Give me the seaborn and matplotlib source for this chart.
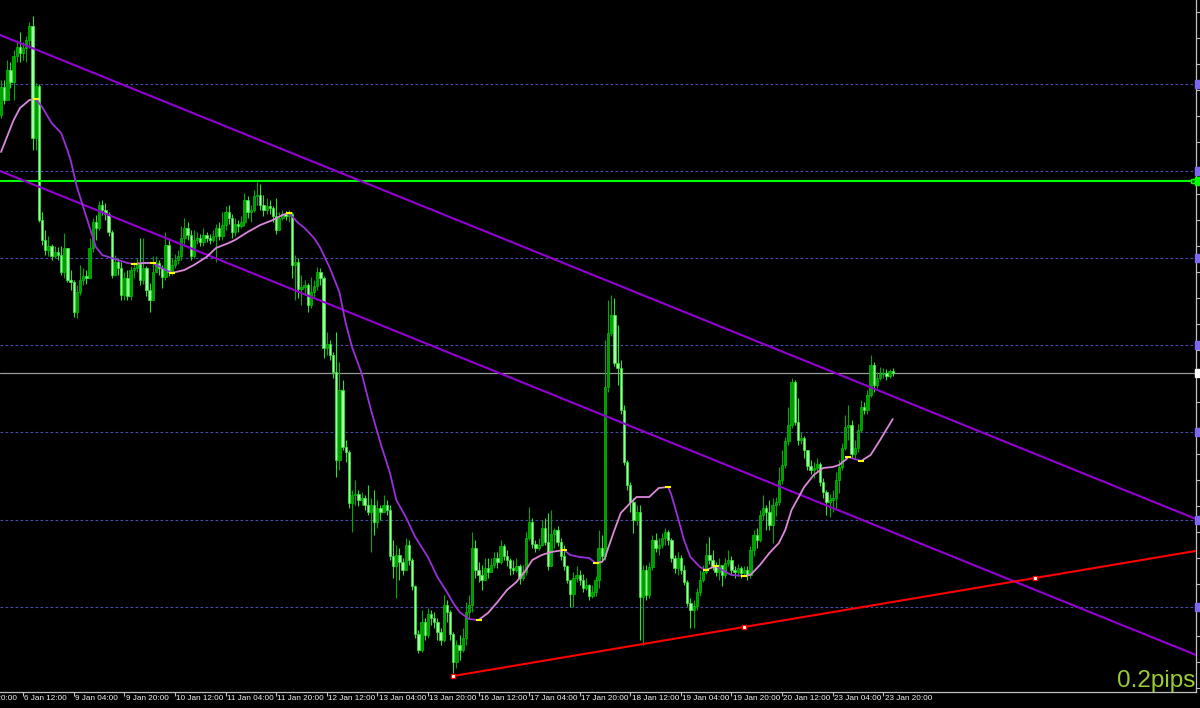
import numpy as np
import pandas as pd
import matplotlib
matplotlib.use("Agg")
import matplotlib.pyplot as plt
import matplotlib.transforms as mtransforms
import seaborn as sns

# hourly candles, price level (chart units), index 0 = 6 Jan 05:00
first_open = 585
close = [
    613, 600, 630, 618, 644, 653, 647, 652, 660, 674,
    562, 614, 480, 460, 450, 454, 444, 448, 445, 428,
    452, 420, 418, 388, 408, 420, 424, 422, 452, 478,
    472, 495, 490, 486, 468, 425, 438, 432, 405, 422,
    404, 430, 432, 436, 420, 432, 410, 400, 428, 437,
    432, 423, 455, 428, 435, 440, 444, 462, 472, 465,
    444, 460, 462, 458, 465, 462, 460, 464, 472, 464,
    475, 488, 482, 468, 476, 474, 478, 500, 488, 490,
    504, 505, 495, 490, 494, 492, 484, 470, 482, 486,
    484, 486, 435, 438, 411, 413, 415, 395, 408, 414,
    428, 422, 352, 356, 345, 328, 240, 310, 253, 248,
    197, 205, 206, 200, 202, 195, 188, 195, 178, 192,
    188, 195, 190, 144, 134, 145, 138, 130, 155, 140,
    114, 66, 50, 78, 65, 86, 82, 78, 68, 60,
    95, 88, 66, 38, 55, 50, 62, 88, 95, 152,
    130, 125, 120, 132, 128, 135, 142, 138, 154, 144,
    140, 132, 130, 134, 122, 128, 162, 178, 156, 152,
    155, 172, 158, 134, 166, 170, 158, 144, 134, 120,
    106, 122, 125, 120, 112, 115, 104, 108, 120, 152,
    144, 313, 367, 385, 337, 332, 290, 238, 215, 198,
    180, 188, 103, 130, 105, 133, 160, 152, 155, 162,
    168, 160, 142, 132, 142, 130, 118, 97, 90, 94,
    108, 120, 128, 145, 140, 134, 128, 135, 125, 137,
    140, 130, 128, 132, 127, 130, 125, 150, 165, 160,
    185, 192, 188, 175, 195, 198, 220, 235, 259, 275,
    318, 278, 260, 262, 250, 234, 230, 232, 236, 218,
    208, 198, 200, 202, 220, 233, 252, 273, 275, 246,
    252, 270, 293, 290, 305, 335, 315, 322, 326, 327,
    324, 329, 327,
]
high = [
    620, 620, 640, 638, 650, 660, 668, 658, 664, 678,
    684, 617, 616, 488, 470, 464, 456, 454, 453, 454,
    467, 445, 430, 420, 415, 435, 432, 430, 462, 482,
    485, 499, 500, 497, 488, 470, 445, 442, 438, 428,
    430, 434, 438, 442, 462, 462, 434, 417, 444, 444,
    440, 435, 468, 462, 442, 446, 450, 474, 482, 478,
    470, 470, 468, 466, 472, 468, 466, 470, 476, 478,
    488, 494, 495, 486, 482, 480, 484, 507, 504, 495,
    510, 518, 516, 505, 502, 500, 494, 502, 488, 490,
    489, 490, 488, 445, 442, 425, 420, 417, 423, 420,
    433, 432, 424, 368, 360, 348, 368, 338, 320, 260,
    250, 210, 220, 210, 208, 205, 215, 202, 210, 200,
    195, 205, 200, 195, 160, 155, 152, 142, 162, 160,
    142, 115, 70, 90, 82, 92, 90, 88, 82, 72,
    105, 100, 90, 68, 60, 65, 72, 98, 105, 168,
    160, 138, 135, 142, 142, 142, 148, 148, 160, 156,
    150, 142, 140, 142, 136, 135, 168, 193, 182, 160,
    162, 180, 182, 187, 190, 172, 174, 162, 155, 135,
    120, 128, 134, 130, 126, 122, 116, 115, 124, 170,
    165, 360, 400, 405, 402, 375, 340, 295, 240, 218,
    202, 195, 195, 135, 135, 138, 165, 167, 162, 167,
    172, 170, 162, 145, 148, 145, 135, 120, 102, 100,
    112, 130, 135, 157, 163, 150, 138, 142, 134, 142,
    150, 144, 134, 136, 134, 134, 134, 154, 170, 172,
    190, 205, 195, 200, 202, 203, 233, 250, 263, 293,
    322, 320, 302, 268, 264, 250, 240, 238, 242, 238,
    222, 210, 206, 210, 228, 240, 257, 285, 295, 280,
    260, 276, 300, 298, 310, 345, 338, 328, 333, 332,
    331, 331, 332,
]
low = [
    582, 596, 600, 612, 600, 638, 638, 640, 638, 652,
    550, 550, 478, 455, 445, 444, 440, 442, 440, 425,
    422, 418, 410, 383, 382, 405, 415, 416, 422, 448,
    460, 470, 485, 480, 464, 422, 425, 425, 400, 400,
    400, 400, 422, 428, 415, 416, 404, 388, 410, 428,
    425, 412, 420, 424, 425, 432, 436, 440, 456, 460,
    440, 442, 456, 454, 454, 458, 456, 458, 438, 460,
    460, 470, 476, 462, 464, 468, 472, 474, 482, 478,
    488, 495, 490, 484, 486, 486, 478, 466, 470, 480,
    480, 478, 422, 400, 402, 395, 405, 388, 392, 402,
    410, 415, 342, 345, 340, 322, 223, 230, 250, 238,
    192, 168, 195, 194, 195, 190, 185, 148, 165, 172,
    180, 188, 185, 140, 122, 102, 120, 125, 130, 135,
    110, 62, 47, 48, 60, 62, 75, 72, 60, 55,
    58, 78, 60, 27, 32, 40, 48, 55, 82, 88,
    122, 118, 110, 120, 122, 128, 132, 132, 136, 140,
    134, 125, 126, 128, 116, 120, 125, 160, 152, 148,
    150, 154, 155, 130, 140, 152, 154, 140, 130, 117,
    93, 93, 118, 115, 108, 110, 100, 102, 104, 112,
    140, 140, 308, 364, 334, 315, 286, 235, 210, 188,
    167, 175, 60, 55, 100, 102, 130, 148, 145, 152,
    155, 155, 138, 127, 125, 126, 115, 94, 72, 72,
    90, 104, 118, 126, 136, 130, 124, 120, 114, 122,
    134, 125, 122, 124, 122, 124, 120, 122, 144, 152,
    158, 180, 170, 170, 157, 184, 195, 216, 232, 255,
    272, 275, 255, 256, 242, 230, 226, 222, 228, 214,
    202, 185, 183, 188, 190, 207, 230, 250, 260, 242,
    242, 248, 268, 286, 286, 303, 308, 312, 320, 322,
    320, 322, 324,
]

# moving average (candle index, level)
ma_idx = [0, 4, 6, 9, 11, 13, 16, 19, 21, 22, 24, 26, 28, 30, 32, 35, 40, 42, 45, 48,
          51, 54, 58, 61, 65, 68, 72, 74, 78, 82, 86, 89, 91, 94, 96, 99, 101, 104, 107, 109,
          111, 114, 117, 120, 123, 125, 128, 131, 135, 138, 141, 143, 145, 148, 151, 154, 157, 160, 163, 166,
          168, 171, 174, 178, 180, 183, 186, 188, 190, 191, 192, 194, 196, 199, 201, 205, 208, 211, 212, 214,
          216, 218, 221, 223, 226, 228, 231, 235, 237, 240, 243, 246, 248, 250, 254, 257, 260, 263, 265, 267,
          268, 272, 275, 278, 282]
ma_val = [548, 580, 592, 600, 601, 593, 577, 567, 550, 540, 513, 493, 473, 453, 445, 442, 437, 436, 437, 437,
          432, 427, 430, 435, 443, 452, 457, 460, 468, 475, 480, 485, 487, 477, 472, 462, 452, 432, 408, 377,
          353, 327, 290, 257, 227, 200, 183, 163, 143, 123, 108, 97, 88, 81, 80, 87, 98, 110, 118, 130,
          140, 145, 148, 150, 145, 143, 142, 137, 138, 142, 152, 170, 187, 197, 203, 203, 212, 213, 205, 183,
          160, 143, 133, 130, 134, 130, 125, 124, 125, 135, 147, 157, 170, 190, 213, 225, 232, 233, 235, 240,
          243, 239, 245, 260, 281]

tick_idx = [-9, 7, 23, 39, 55, 71, 87, 103, 119, 135, 151, 167, 183, 199, 215, 231, 247, 263, 279]
tick_labels = ["5 Jan 20:00", "6 Jan 12:00", "9 Jan 04:00", "9 Jan 20:00", "10 Jan 12:00",
               "11 Jan 04:00", "11 Jan 20:00", "12 Jan 12:00", "13 Jan 04:00", "13 Jan 20:00",
               "16 Jan 12:00", "17 Jan 04:00", "17 Jan 20:00", "18 Jan 12:00", "19 Jan 04:00",
               "19 Jan 20:00", "20 Jan 12:00", "23 Jan 04:00", "23 Jan 20:00"]

grid_levels = [616, 529, 442, 355, 268, 180, 93]
support_level = 519
bid_level = 327
upper_channel = [(0, 664.6), (300, 280.7)]
lower_channel = [(0, 528.6), (300, 144.7)]
red_x = [143, 235, 327]
red_y = [24, 73, 122]

sns.set_theme(style="dark", rc={"axes.facecolor": "black", "figure.facecolor": "black",
                                "axes.grid": False, "axes.edgecolor": "#c0c0c0"})
plt.rcParams["font.family"] = ["Liberation Sans", "DejaVu Sans"]

n = min(len(close), len(high), len(low))
df = pd.DataFrame({"close": close[:n], "high": high[:n], "low": low[:n]})
df["open"] = [first_open] + list(df["close"][:-1])
df["high"] = df[["high", "open", "close"]].max(axis=1)
df["low"] = df[["low", "open", "close"]].min(axis=1)
df["idx"] = np.arange(n)

fig = plt.figure(figsize=(12, 7.08), dpi=100)
ax = fig.add_axes([0, 16 / 708, 1196 / 1200, 692 / 708])
ax.set_facecolor("black")
xmin, xmax = -0.32, 377.9

# grid and bid line
for lv in grid_levels:
    ax.axhline(lv, color="#4a4aa8", lw=0.8, dashes=(2.5, 2), zorder=1)
ax.axhline(bid_level, color="#9a9a9a", lw=0.9, zorder=1.5)

# candles
up = df[df.close >= df.open]
dn = df[df.close < df.open]
ax.vlines(up.idx, up.low, up.high, color="#00a800", lw=0.8, zorder=2)
ax.vlines(dn.idx, dn.low, dn.high, color="#30e030", lw=0.8, zorder=2)
ax.bar(up.idx, np.maximum(up.close - up.open, 0.8), bottom=up.open, width=0.75,
       color="#009a00", edgecolor="#00c400", lw=0.5, zorder=2.1)
ax.bar(dn.idx, np.maximum(dn.open - dn.close, 0.8), bottom=dn.close, width=0.75,
       color="#a0ffa0", edgecolor="#30f030", lw=0.5, zorder=2.1)

# horizontal support
ax.axhline(support_level, color="#00ff00", lw=1.5, zorder=3)
ax.plot(376.8, support_level, "s", ms=3.5, mfc="#006000", mec="#00ff00", mew=1, zorder=3.1)

# channel
ax.axline(upper_channel[0], upper_channel[1], color="#9400d3", lw=1.5, zorder=3)
ax.axline(lower_channel[0], lower_channel[1], color="#9400d3", lw=1.5, zorder=3)

# rising red trend ray
slope = (red_y[-1] - red_y[0]) / (red_x[-1] - red_x[0])
sns.lineplot(x=[red_x[0], xmax], y=[red_y[0], red_y[0] + slope * (xmax - red_x[0])],
             color="#ff0000", lw=1.5, ax=ax, zorder=3)
ax.plot(red_x, red_y, "s", ms=3.5, color="#ff0000", zorder=3.2)
ax.plot(red_x, red_y, "s", ms=1.2, color="white", zorder=3.3)

# moving average, coloured by direction
ma = pd.DataFrame({"idx": ma_idx, "val": ma_val})
step = np.sign(np.diff(ma.val))
for k in range(1, len(step)):
    if step[k] == 0:
        step[k] = step[k - 1]
start = 0
for k in range(1, len(step) + 1):
    if k == len(step) or step[k] != step[start]:
        seg = ma.iloc[start:k + 1]
        col = "#dc88dc" if step[start] > 0 else "#9a30d8"
        sns.lineplot(data=seg, x="idx", y="val", color=col, lw=1.3, ax=ax, zorder=4)
        start = k
turns = [k for k in range(1, len(step)) if step[k] != step[k - 1]]
ax.plot(ma.idx[turns], ma.val[turns], "_", color="#ffff00", ms=5, mew=1.5, zorder=5)

# right-side level tags
for lv in grid_levels:
    ax.plot(378.8, lv, "s", ms=5.5, color="#7b68ee", clip_on=False, zorder=6)
ax.plot(378.8, support_level, "s", ms=5.5, color="#00ff00", clip_on=False, zorder=6)
ax.plot(378.8, bid_level, "s", ms=5.5, color="#ffffff", clip_on=False, zorder=6)

ax.set_xlim(xmin, xmax)
ax.set_ylim(8, 700)
ax.set_xlabel("")
ax.set_ylabel("")

# axes decoration
for side in ["left", "top"]:
    ax.spines[side].set_visible(False)
for side in ["right", "bottom"]:
    ax.spines[side].set_visible(True)
    ax.spines[side].set_color("#c0c0c0")
    ax.spines[side].set_linewidth(0.9)

ax.set_xticks([t for t in tick_idx if t >= xmin])
ax.set_xticklabels([])
ax.tick_params(axis="x", bottom=True, length=3, width=0.8, color="#c0c0c0", direction="out")
trans = mtransforms.blended_transform_factory(ax.transData, ax.transAxes)
for t, lab in zip(tick_idx, tick_labels):
    ax.text(t + 0.4, -0.004, lab, transform=trans, ha="left", va="top",
            fontsize=5.9, color="#f0f0f0", clip_on=False)

ax.yaxis.tick_right()
ax.set_yticks(np.arange(687.7, 8, -26.0))
ax.tick_params(axis="y", right=True, left=False, length=3, width=0.8, color="#c0c0c0",
               labelright=False, labelleft=False, direction="out")

fig.text(1195 / 1200, (708 - 687) / 708, "0.2pips", ha="right", va="baseline",
         fontsize=17.5, color="#9acd32", family=["Liberation Sans", "DejaVu Sans"])

fig.savefig("out.png", dpi=100, facecolor="black")
